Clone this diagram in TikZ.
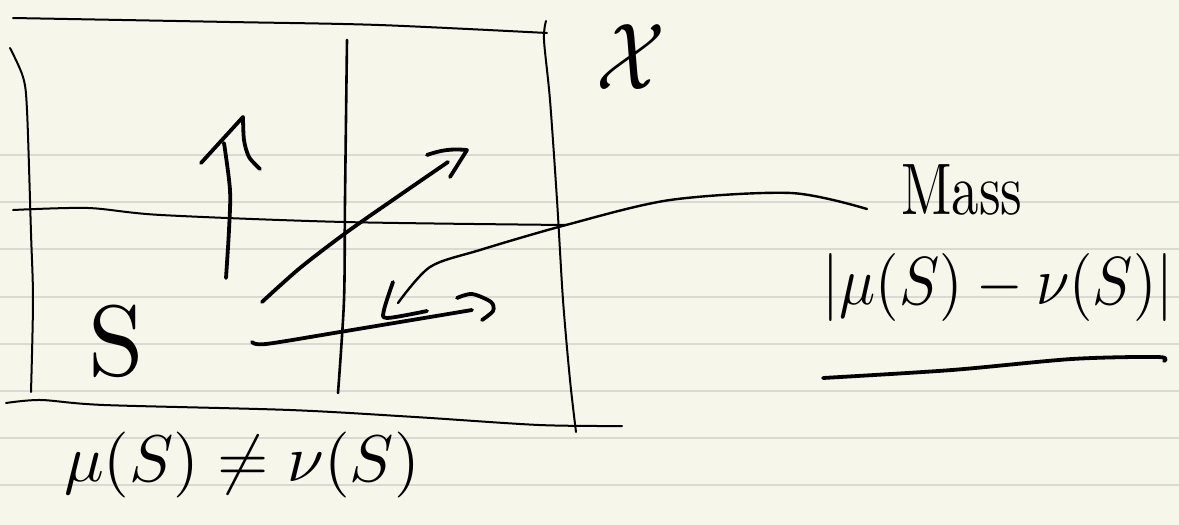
\documentclass[tikz,border=0pt]{standalone}
\usepackage{amsmath}
\definecolor{paper}{RGB}{247,246,234}
\definecolor{ruling}{RGB}{218,218,212}
\begin{document}
\begin{tikzpicture}[x=1pt,y=-1pt, line cap=round, line join=round,
  frame/.style={line width=2pt},
  midline/.style={line width=2.6pt},
  pen/.style={line width=3.8pt},
  leader/.style={line width=2.4pt},
  txt/.style={inner sep=0pt, outer sep=0pt, font=\fontsize{10}{10}\selectfont}]
\fill[paper] (0,0) rectangle (1179,525);
\useasboundingbox (0,0) rectangle (1179,525);
% ruled paper
\foreach \k in {0,...,7}
  \draw[ruling, line width=2pt] (0,{155+47.2*\k}) -- (1179,{155+47.2*\k});
% frame of X
\draw[frame] plot[smooth] coordinates {(13,18) (230,22) (379,25) (547,33)};
\draw[frame] plot[smooth] coordinates {(10,48) (23,77) (27,110) (31,233) (33,300) (31,392)};
\draw[frame] plot[smooth] coordinates {(546,21) (544,40) (550,100) (557,200) (563,300) (570,380) (576,432)};
\draw[midline] plot[smooth] coordinates {(347,40) (345,200) (344,300) (338,393)};
\draw[frame] plot[smooth] coordinates {(13,210) (88,208) (161,215) (344,222) (566,225)};
\draw[frame] plot[smooth] coordinates {(6,403) (41,400) (104,405) (290,410) (415,417) (539,425) (622,426)};
% up arrow
\draw[pen] plot[smooth] coordinates {(226,278) (229,230) (230,190) (224,143)};
\draw[pen] (201,163) -- (243,117);
\draw[pen] plot[smooth] coordinates {(243,117) (244,140) (249,157) (260,169)};
% diagonal arrow
\draw[pen] plot[smooth] coordinates {(262,302) (300,268) (347,232) (400,195) (448,162)};
\draw[pen] (427,155) to[bend left=12] (467,150) -- (450,177);
% lower stroke with hook
\draw[pen] plot[smooth] coordinates {(252,342) (266,344) (340,332) (472,310)};
\draw[pen] plot[smooth] coordinates {(457,298) (472,294) (491,302) (493,311) (482,320)};
% leader to Mass with arrow head
\draw[leader] plot[smooth] coordinates {(398,303) (430,267) (480,250) (566,225) (670,200) (791,193) (867,209)};
\draw[pen] plot[smooth] coordinates {(393,282) (384,310) (387,318) (427,311)};
% underline
\draw[pen] plot[smooth] coordinates {(823,378) (952,370) (1072,359) (1158,357) (1164,361)};
% texts
\node[txt, scale=10] (S) at (116,341) {S};
\node[txt, scale=6.6] (neq) at (242,465) {$\mu(S)\neq\nu(S)$};
\node[txt, xscale=8, yscale=9.5] (X) at (631,57) {$\mathcal{X}$};
\node[txt, xscale=5.5, yscale=7.3] (mass) at (962,190) {Mass};
\node[txt, xscale=6, yscale=6.8] (diff) at (998,287) {$|\mu(S)-\nu(S)|$};
\end{tikzpicture}
\end{document}
